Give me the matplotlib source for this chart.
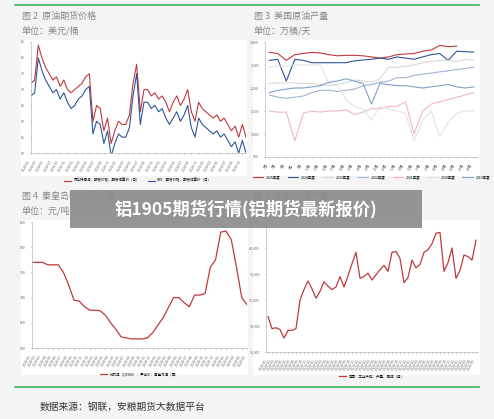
import matplotlib.pyplot as plt
import matplotlib.patches as patches

plt.rcParams['font.family'] = ['Noto Sans CJK SC', 'DejaVu Sans']

# 图2 原油期货价格
brent = [72, 73, 84, 80, 77, 75, 73, 74, 71, 73, 70, 69, 70, 71, 72, 74, 75, 60, 65, 64,
         57, 61, 53, 57, 60, 59, 59, 62, 72, 78, 63, 70, 70, 68, 69, 67, 68, 66, 63, 66,
         68, 65, 67, 70, 63, 60, 66, 64, 63, 62, 61, 62, 60, 61, 59, 57, 58.5, 55, 59, 55]
wti = [68, 69, 80, 76, 73, 71, 69, 70, 67, 69, 66, 64, 65, 67, 68, 70, 71, 56, 60, 59,
       53, 57, 49, 53, 56, 55, 55, 58, 68, 75, 59, 66, 66, 64, 65, 63, 64, 61, 59, 61,
       63, 60, 62, 65, 58, 55, 61, 59, 58, 57, 56, 57, 55, 56, 54, 52, 53.5, 50, 54, 50]

# 图3 美国原油产量
us_years = ['2025年度', '2024年度', '2023年度', '2022年度', '2021年度', '2020年度', '2019年度']
us_colors = ['#c0393b', '#2f5597', '#d9d9d9', '#9fb4d6', '#f4b6c2', '#e3e3e3', '#7f9fc8']
us_2025 = [1355, 1350, 1320, 1345, 1350, 1355, 1352, 1345, 1340, 1342, 1342, 1340, 1335, 1330,
           1335, 1345, 1348, 1350, 1360, 1365, 1385, 1380, 1382]
us_2024 = [1320, 1325, 1230, 1325, 1320, 1310, 1310, 1310, 1310, 1310, 1318, 1322, 1325, 1330,
           1325, 1335, 1330, 1325, 1335, 1345, 1350, 1320, 1360, 1358, 1356]
us_2023 = [1220, 1222, 1222, 1222, 1220, 1220, 1215, 1210, 1215, 1225, 1235, 1230, 1225, 1240,
           1290, 1290, 1295, 1300, 1310, 1315, 1320, 1320, 1315, 1325, 1320]
us_2022 = [1170, 1160, 1155, 1160, 1165, 1180, 1190, 1190, 1185, 1190, 1195, 1210, 1215, 1225,
           1230, 1245, 1245, 1255, 1260, 1265, 1270, 1275, 1280, 1285, 1290]
us_2021 = [1100, 1095, 1095, 970, 1090, 1100, 1095, 1100, 1100, 1105, 1085, 1095, 1110, 1110,
           1120, 1120, 1140, 1000, 1100, 1130, 1140, 1150, 1160, 1170, 1180]
us_2020 = [1290, 1295, 1295, 1300, 1300, 1300, 1300, 1220, 1210, 1150, 1120, 1110, 1060, 1120,
           1110, 1100, 1090, 970, 1060, 1100, 990, 1050, 1090, 1100, 1100]
us_2019 = [1180, 1190, 1195, 1200, 1200, 1205, 1210, 1225, 1230, 1240, 1230, 1220, 1130, 1220,
           1215, 1210, 1210, 1205, 1200, 1205, 1210, 1215, 1205, 1200, 1205]

# 图4 秦皇岛动力煤价格
coal = [770, 770, 770, 765, 765, 765, 750, 725, 695, 693, 682, 675, 675, 674, 665, 650, 637,
        622, 620, 618, 618, 618, 620, 630, 645, 660, 680, 700, 700, 690, 682, 705, 705, 708,
        760, 775, 830, 832, 815, 760, 700, 686]

# 图5 全国原煤产量
raw = [34100, 32700, 32800, 32600, 31600, 32500, 32500, 32700, 36000, 37200, 38200, 37300,
       36200, 37000, 38100, 37600, 37200, 37500, 38700, 37500, 38800, 40200, 41500, 38500,
       38700, 39100, 38300, 38900, 39500, 40000, 39300, 41500, 41600, 40800, 38000, 38600,
       40600, 39700, 40100, 41500, 41800, 42500, 43700, 43800, 39300, 40300, 42000, 38500,
       39400, 41200, 41000, 40600, 42900]

fig = plt.figure(figsize=(4.94, 4.19), dpi=100)
fig.patch.set_facecolor('#f4f4f4')
W, H = 494, 419


def box(x0, y0, x1, y1):
    return [x0 / W, 1 - y1 / H, (x1 - x0) / W, (y1 - y0) / H]


# panels
for x0, y0, x1, y1 in [(21, 40, 247, 176), (253, 40, 480, 176),
                       (21, 220, 248, 375), (253, 220, 480, 375)]:
    fig.patches.append(patches.Rectangle((x0 / W, 1 - y1 / H), (x1 - x0) / W, (y1 - y0) / H,
                                         transform=fig.transFigure, facecolor='white',
                                         edgecolor='none', zorder=-5))

for y in [5, 387]:
    fig.add_artist(plt.Line2D([15 / W, 479 / W], [1 - y / H] * 2, color='#3cb55a', lw=1.2))

tc = '#888888'
fig.text(22 / W, 1 - 16 / H, '图 2  原油期货价格', fontsize=6.5, color=tc, va='center')
fig.text(22 / W, 1 - 31 / H, '单位：美元/桶', fontsize=6.5, color=tc, va='center')
fig.text(254 / W, 1 - 16 / H, '图 3  美国原油产量', fontsize=6.5, color=tc, va='center')
fig.text(254 / W, 1 - 31 / H, '单位：万桶/天', fontsize=6.5, color=tc, va='center')
fig.text(22 / W, 1 - 196 / H, '图 4  秦皇岛动力煤价格', fontsize=6.5, color=tc, va='center')
fig.text(22 / W, 1 - 211 / H, '单位：元/吨', fontsize=6.5, color=tc, va='center')
fig.text(254 / W, 1 - 196 / H, '图 5  全国原煤产量', fontsize=6.5, color=tc, va='center')
fig.text(40 / W, 1 - 407 / H, '数据来源：钢联，安粮期货大数据平台', fontsize=7, color='#333333', va='center')


def style(ax):
    ax.patch.set_alpha(0)
    for s in ['top', 'right']:
        ax.spines[s].set_visible(False)
    for s in ['left', 'bottom']:
        ax.spines[s].set_color('#bbbbbb')
        ax.spines[s].set_linewidth(0.5)
    ax.tick_params(labelsize=2.5, length=1, width=0.4, colors='#666666')


def xlab(ax, n):
    step = max(1, n // 28)
    ax.set_xticks(range(0, n, step))
    ax.set_xticklabels(['2024-%02d' % (i % 12 + 1) for i in range(0, n, step)],
                       rotation=60, ha='right')


# 图2
ax = fig.add_axes(box(31, 42, 246, 153))
ax.plot(brent, color='#c0393b', lw=0.8)
ax.plot(wti, color='#2f5597', lw=0.8)
ax.set_ylim(50, 85)
ax.set_yticks(range(50, 86, 5))
ax.set_xlim(0, len(brent) - 1)
xlab(ax, len(brent))
style(ax)
ax.legend(['布伦特原油：期货价格：期货结算价（日）', 'WTI：期货价格：期货结算价（日）'],
          loc='upper center', bbox_to_anchor=(0.5, -0.2), ncol=2, fontsize=2.5, frameon=False)

# 图3
ax = fig.add_axes(box(265, 42, 478, 157))
for vals, c, lab in zip([us_2025, us_2024, us_2023, us_2022, us_2021, us_2020, us_2019],
                        us_colors, us_years):
    ax.plot(vals, color=c, lw=0.8, label=lab)
ax.set_ylim(900, 1400)
ax.set_yticks(range(900, 1401, 100))
ax.set_yticklabels(['900', '1,000', '1,100', '1,200', '1,300', '1,400'])
ax.set_xlim(-0.5, 24.5)
ax.set_xticks(range(25))
ax.set_xticklabels(['%d周' % (2 * i + 1) for i in range(25)], rotation=60, ha='right')
style(ax)
ax.legend(loc='upper center', bbox_to_anchor=(0.5, -0.13), ncol=7, fontsize=2.5, frameon=False,
          handlelength=3)

# 图4
ax = fig.add_axes(box(32, 222, 247, 348))
ax.plot(coal, color='#c0393b', lw=0.9)
ax.set_ylim(600, 850)
ax.set_yticks(range(600, 851, 50))
ax.set_xlim(0, len(coal) - 1)
xlab(ax, len(coal))
style(ax)
ax.legend(['动力煤（Q5500）：平仓价：秦皇岛港（周）'], loc='upper center',
          bbox_to_anchor=(0.5, -0.17), fontsize=2.5, frameon=False)

# 图5
ax = fig.add_axes(box(266, 222, 478, 352))
ax.plot(raw, color='#c0393b', lw=0.9)
ax.set_ylim(30000, 45000)
ax.set_yticks(range(30000, 45001, 3000))
ax.set_yticklabels(['{:,}'.format(v) for v in range(30000, 45001, 3000)])
ax.set_xlim(-0.5, len(raw) - 0.5)
xlab(ax, len(raw))
style(ax)
ax.legend(['中国：工业产品：产量：原煤（月）'], loc='upper center',
          bbox_to_anchor=(0.5, -0.15), fontsize=2.5, frameon=False)

# 标题横幅
fig.patches.append(patches.Rectangle((70 / W, 1 - 228 / H), 352 / W, 38 / H,
                                     transform=fig.transFigure, facecolor='#8c8c8c',
                                     alpha=0.92, edgecolor='none', zorder=5))
fig.text(246 / W, 1 - 209 / H, '铝1905期货行情(铝期货最新报价)', fontsize=12.5, color='white',
         fontweight='bold', ha='center', va='center', zorder=6)

fig.savefig('out.png', dpi=100, facecolor=fig.get_facecolor())
